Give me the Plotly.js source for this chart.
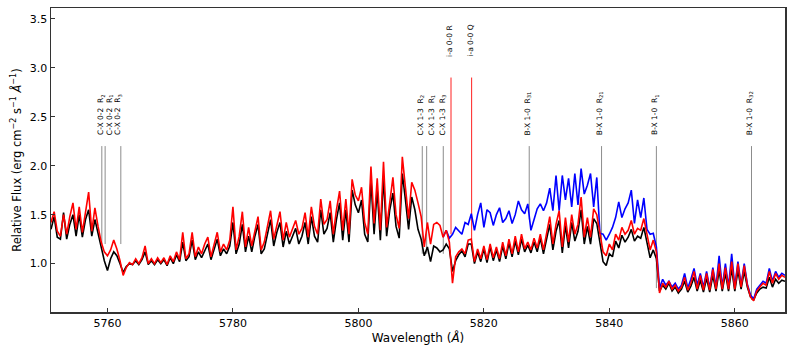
<!DOCTYPE html>
<html><head><meta charset="utf-8">
<script src="https://cdn.plot.ly/plotly-3.0.1.min.js"></script>
<style>html,body{margin:0;padding:0;background:#fff}#chart{width:793px;height:355px}</style>
</head><body><div id="chart"></div>
<script>
// Wavelength grid (Angstrom) shared by the spectra
const waveStart = 5751.0;
const waveStep = 0.5;

const blackFlux = [
1.35,1.48,1.27,1.25,1.52,1.25,1.40,1.50,1.28,1.50,
1.27,1.45,1.55,1.28,1.45,1.30,1.15,1.03,0.93,1.05,
1.12,1.08,1.00,0.91,0.97,1.00,0.99,1.03,0.99,1.04,
1.12,0.99,1.03,0.99,1.04,1.00,1.04,0.98,1.06,1.00,
1.09,1.02,1.22,1.03,1.07,1.24,1.04,1.12,1.06,1.14,
1.20,1.04,1.14,1.25,1.08,1.15,1.10,1.18,1.42,1.10,
1.20,1.40,1.12,1.28,1.12,1.28,1.40,1.10,1.15,1.30,
1.45,1.18,1.32,1.42,1.17,1.33,1.20,1.28,1.36,1.20,
1.28,1.42,1.20,1.48,1.28,1.22,1.55,1.30,1.36,1.52,
1.22,1.45,1.62,1.24,1.55,1.22,1.75,1.60,1.52,1.65,
1.30,1.22,1.85,1.30,1.75,1.24,1.88,1.28,1.55,1.72,
1.38,1.26,1.92,1.65,1.35,1.68,1.55,1.35,1.25,1.08,
1.17,1.02,1.18,1.16,1.12,1.14,1.20,1.15,0.92,1.03,
1.09,1.13,1.07,1.20,1.20,1.00,1.12,1.02,1.15,1.01,
1.17,1.03,1.14,1.02,1.18,1.05,1.21,1.07,1.23,1.09,
1.25,1.12,1.19,1.11,1.22,1.12,1.26,1.10,1.25,1.40,
1.14,1.33,1.44,1.11,1.39,1.16,1.42,1.23,1.33,1.55,
1.20,1.38,1.20,1.46,1.41,1.22,1.02,0.98,1.10,1.07,
1.23,1.16,1.29,1.22,1.27,1.35,1.23,1.28,1.26,1.37,
1.20,1.06,1.14,1.05,0.72,0.78,0.74,0.80,0.72,0.76,
0.70,0.74,0.82,0.71,0.77,0.86,0.72,0.83,0.71,0.85,
0.71,0.88,0.72,0.93,0.72,0.90,0.72,0.95,0.72,0.93,
0.74,0.92,0.76,0.66,0.63,0.70,0.74,0.76,0.75,0.86,
0.76,0.84,0.80,0.83,0.82
];

const redFlux = [
1.42,1.53,1.33,1.28,1.50,1.30,1.48,1.62,1.35,1.58,
1.32,1.55,1.73,1.33,1.57,1.38,1.22,1.12,1.08,1.14,
1.24,1.15,1.03,0.88,0.96,1.01,0.99,1.05,1.00,1.06,
1.18,1.00,1.05,1.00,1.06,1.01,1.06,0.99,1.08,1.02,
1.12,1.04,1.32,1.05,1.10,1.32,1.07,1.17,1.10,1.20,
1.27,1.07,1.20,1.32,1.12,1.20,1.14,1.24,1.58,1.14,
1.28,1.53,1.17,1.37,1.18,1.35,1.48,1.14,1.22,1.38,
1.54,1.25,1.40,1.53,1.24,1.42,1.27,1.36,1.44,1.30,
1.36,1.52,1.27,1.58,1.38,1.30,1.66,1.40,1.45,1.64,
1.30,1.55,1.74,1.34,1.66,1.30,1.86,1.70,1.64,1.78,
1.42,1.30,1.99,1.41,1.87,1.34,2.04,1.37,1.65,1.88,
1.50,1.36,2.09,1.80,1.46,1.83,1.75,1.62,1.48,1.17,
1.42,1.20,1.40,1.42,1.39,1.27,1.34,1.22,0.80,1.07,
1.12,1.15,1.10,1.24,1.25,1.02,1.15,1.05,1.18,1.04,
1.20,1.06,1.17,1.05,1.22,1.08,1.25,1.10,1.28,1.12,
1.30,1.15,1.22,1.14,1.26,1.16,1.30,1.14,1.30,1.48,
1.20,1.40,1.54,1.17,1.47,1.22,1.50,1.30,1.40,1.68,
1.27,1.47,1.27,1.56,1.50,1.30,1.12,1.08,1.20,1.14,
1.30,1.24,1.37,1.30,1.34,1.44,1.30,1.36,1.34,1.46,
1.30,1.14,1.24,1.12,0.70,0.80,0.76,0.82,0.74,0.78,
0.72,0.76,0.86,0.73,0.80,0.92,0.74,0.88,0.73,0.90,
0.73,0.94,0.74,1.00,0.74,0.96,0.74,1.02,0.74,1.00,
0.76,0.98,0.78,0.66,0.62,0.72,0.76,0.80,0.78,0.92,
0.80,0.90,0.84,0.88,0.86
];

const blueStart = 5813.5;
const blueFlux = [
1.27,1.34,1.26,1.30,1.37,1.33,1.30,1.42,1.40,1.51,
1.34,1.50,1.62,1.37,1.55,1.52,1.39,1.50,1.57,1.42,
1.46,1.54,1.41,1.50,1.64,1.55,1.51,1.61,1.34,1.45,
1.56,1.61,1.54,1.62,1.77,1.54,1.90,1.54,1.90,1.65,
1.87,1.58,1.92,1.60,1.97,1.71,1.80,1.92,1.58,1.88,
1.31,1.30,1.24,1.30,1.37,1.47,1.63,1.47,1.56,1.62,
1.75,1.41,1.65,1.47,1.67,1.35,1.30,1.31,1.17,0.75,
0.84,0.78,0.82,0.76,0.80,0.74,0.78,0.90,0.75,0.84,
0.95,0.78,0.90,0.76,0.92,0.75,0.96,0.76,1.08,0.76,
1.00,0.76,1.10,0.76,1.02,0.78,1.00,0.79,0.68,0.64,
0.74,0.78,0.82,0.80,0.95,0.82,0.92,0.86,0.90,0.88
];

// Line identifications
const lineWaves   = [5759.10, 5759.63, 5762.13, 5810.18, 5810.88, 5813.53, 5814.76, 5818.05, 5827.23, 5838.76, 5847.50, 5862.66];
const lineBottoms = [1.20, 1.20, 1.20, 1.10, 1.10, 1.10, 1.30, 1.25, 1.45, 1.17, 0.75, 0.63];
const lineTops    = [2.2, 2.2, 2.2, 2.2, 2.2, 2.2, 2.9, 2.9, 2.2, 2.2, 2.2, 2.2];
const lineKinds   = ['g','g','g','g','g','g','r','r','g','g','g','g'];
const labelWaves  = [5759.0, 5760.3, 5761.7, 5809.93, 5811.68, 5813.43, 5814.6, 5817.9, 5827.07, 5838.5, 5847.3, 5862.4];
const labelLevels = [2.3, 2.3, 2.3, 2.3, 2.3, 2.3, 3.1, 3.1, 2.3, 2.3, 2.3, 2.3];
const labelTexts  = [
  'C-X 0-2\u00a0\u00a0R<sub>2</sub>', 'C-X 0-2\u00a0\u00a0R<sub>1</sub>', 'C-X 0-2\u00a0\u00a0R<sub>3</sub>',
  'C-X 1-3\u00a0\u00a0R<sub>2</sub>', 'C-X 1-3\u00a0\u00a0R<sub>1</sub>', 'C-X 1-3\u00a0\u00a0R<sub>3</sub>',
  'i-a 0-0 R', 'i-a 0-0 Q',
  'B-X 1-0\u00a0\u00a0R<sub>31</sub>', 'B-X 1-0\u00a0\u00a0R<sub>21</sub>', 'B-X 1-0\u00a0\u00a0R<sub>1</sub>', 'B-X 1-0\u00a0\u00a0R<sub>32</sub>'
];

const FONT = 'DejaVu Sans, sans-serif';

const traces = [
  {type:'scatter', mode:'lines', x0: waveStart, dx: waveStep, y: blackFlux,
   line:{color:'#000000', width:1.6}, hoverinfo:'skip'},
  {type:'scatter', mode:'lines', x0: blueStart, dx: waveStep, y: blueFlux,
   line:{color:'#0000ff', width:1.6}, hoverinfo:'skip'},
  {type:'scatter', mode:'lines', x0: waveStart, dx: waveStep, y: redFlux,
   line:{color:'#ff0000', width:1.6}, hoverinfo:'skip'}
];

const shapes = lineWaves.map((w, i) => ({
  type:'line', xref:'x', yref:'y', x0:w, x1:w, y0:lineBottoms[i], y1:lineTops[i],
  layer:'below',
  line:{color: lineKinds[i] === 'r' ? '#ff2020' : '#8c8c8c', width:1}
}));

const annotations = labelTexts.map((t, i) => ({
  xref:'x', yref:'y', x:labelWaves[i], y:labelLevels[i], text:t,
  showarrow:false, textangle:-90, xanchor:'center', yanchor:'bottom',
  borderpad:0, font:{family:FONT, size:7.5, color:'#000'}
}));

const axisCommon = {
  showgrid:false, zeroline:false, showline:true, mirror:true,
  linecolor:'#333', linewidth:1.5, ticks:'inside', ticklen:4, tickwidth:1, tickcolor:'#333',
  tickfont:{family:FONT, size:11, color:'#000'}
};

const layout = {
  width:793, height:355,
  margin:{l:51, r:8, t:8, b:43},
  paper_bgcolor:'#fff', plot_bgcolor:'#fff',
  showlegend:false,
  font:{family:FONT, color:'#000'},
  xaxis: Object.assign({}, axisCommon, {
    range:[5751, 5868], tick0:5760, dtick:20,
    title:{text:'Wavelength (<i>Å</i>)', font:{family:FONT, size:12, color:'#000'}, standoff:5}
  }),
  yaxis: Object.assign({}, axisCommon, {
    range:[0.506, 3.61], tick0:0, dtick:0.5, tickformat:'.1f',
    title:{text:'Relative Flux (erg cm<sup>\u22122</sup> s<sup>\u22121</sup> <i>Å</i><sup>\u22121</sup>)', font:{family:FONT, size:11.5, color:'#000'}, standoff:6}
  }),
  shapes: shapes,
  annotations: annotations
};

Plotly.newPlot('chart', traces, layout, {staticPlot:true, displayModeBar:false});
</script>
</body></html>
